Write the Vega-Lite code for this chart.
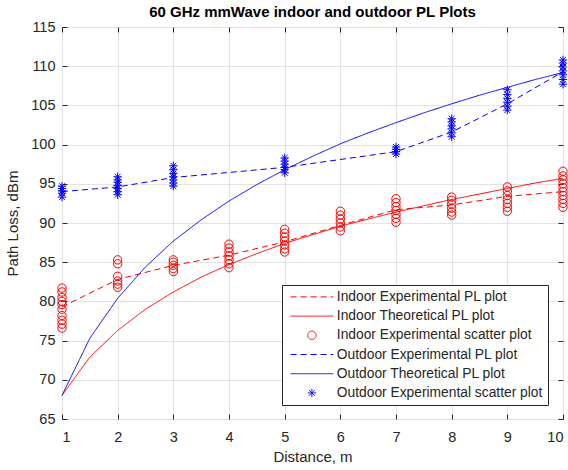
{
  "$schema": "https://vega.github.io/schema/vega-lite/v6.json",
  "width": 501,
  "height": 392,
  "autosize": {"type": "none"},
  "padding": {"left": 62, "top": 27, "right": 5, "bottom": 51},
  "background": "white",
  "title": {"text": "60 GHz mmWave indoor and outdoor PL Plots", "fontSize": 15, "fontWeight": "bold", "font": "Liberation Sans", "color": "#000000", "offset": -1, "anchor": "middle"},
  "config": {
    "view": {"stroke": "#262626", "strokeWidth": 1},
    "axis": {"labelFont": "Liberation Sans", "labelFontSize": 14.5, "labelColor": "#262626", "titleFont": "Liberation Sans", "titleFontSize": 15, "titleColor": "#262626", "titleFontWeight": "normal", "gridColor": "#e3e3e3", "gridOpacity": 1, "domain": false, "tickColor": "#262626", "tickSize": -5}
  },
  "datasets": {
    "lines": [
      {"s": "Indoor Experimental PL plot", "d": 1, "pl": 79.3},
      {"s": "Indoor Experimental PL plot", "d": 2, "pl": 82.8},
      {"s": "Indoor Experimental PL plot", "d": 3, "pl": 84.6},
      {"s": "Indoor Experimental PL plot", "d": 4, "pl": 85.9},
      {"s": "Indoor Experimental PL plot", "d": 5, "pl": 87.6},
      {"s": "Indoor Experimental PL plot", "d": 6, "pl": 89.7},
      {"s": "Indoor Experimental PL plot", "d": 7, "pl": 91.7},
      {"s": "Indoor Experimental PL plot", "d": 8, "pl": 92.3},
      {"s": "Indoor Experimental PL plot", "d": 9, "pl": 93.4},
      {"s": "Indoor Experimental PL plot", "d": 10, "pl": 94.0},
      {"s": "Indoor Theoretical PL plot", "d": 1, "pl": 68.0},
      {"s": "Indoor Theoretical PL plot", "d": 1.5, "pl": 72.9},
      {"s": "Indoor Theoretical PL plot", "d": 2, "pl": 76.3},
      {"s": "Indoor Theoretical PL plot", "d": 2.5, "pl": 79.0},
      {"s": "Indoor Theoretical PL plot", "d": 3, "pl": 81.2},
      {"s": "Indoor Theoretical PL plot", "d": 3.5, "pl": 83.1},
      {"s": "Indoor Theoretical PL plot", "d": 4, "pl": 84.7},
      {"s": "Indoor Theoretical PL plot", "d": 4.5, "pl": 86.1},
      {"s": "Indoor Theoretical PL plot", "d": 5, "pl": 87.4},
      {"s": "Indoor Theoretical PL plot", "d": 5.5, "pl": 88.5},
      {"s": "Indoor Theoretical PL plot", "d": 6, "pl": 89.6},
      {"s": "Indoor Theoretical PL plot", "d": 6.5, "pl": 90.5},
      {"s": "Indoor Theoretical PL plot", "d": 7, "pl": 91.4},
      {"s": "Indoor Theoretical PL plot", "d": 7.5, "pl": 92.2},
      {"s": "Indoor Theoretical PL plot", "d": 8, "pl": 93.0},
      {"s": "Indoor Theoretical PL plot", "d": 8.5, "pl": 93.7},
      {"s": "Indoor Theoretical PL plot", "d": 9, "pl": 94.4},
      {"s": "Indoor Theoretical PL plot", "d": 9.5, "pl": 95.1},
      {"s": "Indoor Theoretical PL plot", "d": 10, "pl": 95.7},
      {"s": "Outdoor Experimental PL plot", "d": 1, "pl": 94.0},
      {"s": "Outdoor Experimental PL plot", "d": 2, "pl": 94.6},
      {"s": "Outdoor Experimental PL plot", "d": 3, "pl": 95.8},
      {"s": "Outdoor Experimental PL plot", "d": 5, "pl": 97.1},
      {"s": "Outdoor Experimental PL plot", "d": 7, "pl": 99.1},
      {"s": "Outdoor Experimental PL plot", "d": 8, "pl": 101.6},
      {"s": "Outdoor Experimental PL plot", "d": 9, "pl": 105.2},
      {"s": "Outdoor Experimental PL plot", "d": 10, "pl": 109.3},
      {"s": "Outdoor Theoretical PL plot", "d": 1, "pl": 68.0},
      {"s": "Outdoor Theoretical PL plot", "d": 1.5, "pl": 75.3},
      {"s": "Outdoor Theoretical PL plot", "d": 2, "pl": 80.4},
      {"s": "Outdoor Theoretical PL plot", "d": 2.5, "pl": 84.4},
      {"s": "Outdoor Theoretical PL plot", "d": 3, "pl": 87.7},
      {"s": "Outdoor Theoretical PL plot", "d": 3.5, "pl": 90.4},
      {"s": "Outdoor Theoretical PL plot", "d": 4, "pl": 92.8},
      {"s": "Outdoor Theoretical PL plot", "d": 4.5, "pl": 94.9},
      {"s": "Outdoor Theoretical PL plot", "d": 5, "pl": 96.8},
      {"s": "Outdoor Theoretical PL plot", "d": 5.5, "pl": 98.5},
      {"s": "Outdoor Theoretical PL plot", "d": 6, "pl": 100.1},
      {"s": "Outdoor Theoretical PL plot", "d": 6.5, "pl": 101.5},
      {"s": "Outdoor Theoretical PL plot", "d": 7, "pl": 102.8},
      {"s": "Outdoor Theoretical PL plot", "d": 7.5, "pl": 104.05},
      {"s": "Outdoor Theoretical PL plot", "d": 8, "pl": 105.2},
      {"s": "Outdoor Theoretical PL plot", "d": 8.5, "pl": 106.3},
      {"s": "Outdoor Theoretical PL plot", "d": 9, "pl": 107.3},
      {"s": "Outdoor Theoretical PL plot", "d": 9.5, "pl": 108.3},
      {"s": "Outdoor Theoretical PL plot", "d": 10, "pl": 109.2}
    ],
    "points": [
      {"s": "Indoor Experimental scatter plot", "d": 1, "pl": 76.6},
      {"s": "Indoor Experimental scatter plot", "d": 1, "pl": 77.1},
      {"s": "Indoor Experimental scatter plot", "d": 1, "pl": 77.6},
      {"s": "Indoor Experimental scatter plot", "d": 1, "pl": 78.2},
      {"s": "Indoor Experimental scatter plot", "d": 1, "pl": 79.0},
      {"s": "Indoor Experimental scatter plot", "d": 1, "pl": 79.6},
      {"s": "Indoor Experimental scatter plot", "d": 1, "pl": 80.0},
      {"s": "Indoor Experimental scatter plot", "d": 1, "pl": 80.5},
      {"s": "Indoor Experimental scatter plot", "d": 1, "pl": 81.2},
      {"s": "Indoor Experimental scatter plot", "d": 1, "pl": 81.7},
      {"s": "Indoor Experimental scatter plot", "d": 2, "pl": 81.8},
      {"s": "Indoor Experimental scatter plot", "d": 2, "pl": 82.2},
      {"s": "Indoor Experimental scatter plot", "d": 2, "pl": 82.6},
      {"s": "Indoor Experimental scatter plot", "d": 2, "pl": 83.2},
      {"s": "Indoor Experimental scatter plot", "d": 2, "pl": 84.8},
      {"s": "Indoor Experimental scatter plot", "d": 2, "pl": 85.3},
      {"s": "Indoor Experimental scatter plot", "d": 3, "pl": 83.8},
      {"s": "Indoor Experimental scatter plot", "d": 3, "pl": 84.2},
      {"s": "Indoor Experimental scatter plot", "d": 3, "pl": 84.6},
      {"s": "Indoor Experimental scatter plot", "d": 3, "pl": 85.0},
      {"s": "Indoor Experimental scatter plot", "d": 3, "pl": 85.3},
      {"s": "Indoor Experimental scatter plot", "d": 4, "pl": 84.3},
      {"s": "Indoor Experimental scatter plot", "d": 4, "pl": 84.8},
      {"s": "Indoor Experimental scatter plot", "d": 4, "pl": 85.3},
      {"s": "Indoor Experimental scatter plot", "d": 4, "pl": 85.8},
      {"s": "Indoor Experimental scatter plot", "d": 4, "pl": 86.3},
      {"s": "Indoor Experimental scatter plot", "d": 4, "pl": 86.8},
      {"s": "Indoor Experimental scatter plot", "d": 4, "pl": 87.3},
      {"s": "Indoor Experimental scatter plot", "d": 5, "pl": 86.3},
      {"s": "Indoor Experimental scatter plot", "d": 5, "pl": 86.7},
      {"s": "Indoor Experimental scatter plot", "d": 5, "pl": 87.2},
      {"s": "Indoor Experimental scatter plot", "d": 5, "pl": 87.7},
      {"s": "Indoor Experimental scatter plot", "d": 5, "pl": 88.2},
      {"s": "Indoor Experimental scatter plot", "d": 5, "pl": 88.7},
      {"s": "Indoor Experimental scatter plot", "d": 5, "pl": 89.2},
      {"s": "Indoor Experimental scatter plot", "d": 6, "pl": 89.0},
      {"s": "Indoor Experimental scatter plot", "d": 6, "pl": 89.5},
      {"s": "Indoor Experimental scatter plot", "d": 6, "pl": 90.0},
      {"s": "Indoor Experimental scatter plot", "d": 6, "pl": 90.5},
      {"s": "Indoor Experimental scatter plot", "d": 6, "pl": 91.0},
      {"s": "Indoor Experimental scatter plot", "d": 6, "pl": 91.5},
      {"s": "Indoor Experimental scatter plot", "d": 7, "pl": 90.1},
      {"s": "Indoor Experimental scatter plot", "d": 7, "pl": 90.6},
      {"s": "Indoor Experimental scatter plot", "d": 7, "pl": 91.1},
      {"s": "Indoor Experimental scatter plot", "d": 7, "pl": 91.6},
      {"s": "Indoor Experimental scatter plot", "d": 7, "pl": 92.1},
      {"s": "Indoor Experimental scatter plot", "d": 7, "pl": 92.6},
      {"s": "Indoor Experimental scatter plot", "d": 7, "pl": 93.1},
      {"s": "Indoor Experimental scatter plot", "d": 8, "pl": 91.0},
      {"s": "Indoor Experimental scatter plot", "d": 8, "pl": 91.4},
      {"s": "Indoor Experimental scatter plot", "d": 8, "pl": 91.9},
      {"s": "Indoor Experimental scatter plot", "d": 8, "pl": 92.4},
      {"s": "Indoor Experimental scatter plot", "d": 8, "pl": 92.9},
      {"s": "Indoor Experimental scatter plot", "d": 8, "pl": 93.3},
      {"s": "Indoor Experimental scatter plot", "d": 9, "pl": 91.5},
      {"s": "Indoor Experimental scatter plot", "d": 9, "pl": 92.0},
      {"s": "Indoor Experimental scatter plot", "d": 9, "pl": 92.5},
      {"s": "Indoor Experimental scatter plot", "d": 9, "pl": 93.0},
      {"s": "Indoor Experimental scatter plot", "d": 9, "pl": 93.5},
      {"s": "Indoor Experimental scatter plot", "d": 9, "pl": 94.1},
      {"s": "Indoor Experimental scatter plot", "d": 9, "pl": 94.6},
      {"s": "Indoor Experimental scatter plot", "d": 10, "pl": 92.0},
      {"s": "Indoor Experimental scatter plot", "d": 10, "pl": 92.5},
      {"s": "Indoor Experimental scatter plot", "d": 10, "pl": 93.0},
      {"s": "Indoor Experimental scatter plot", "d": 10, "pl": 93.5},
      {"s": "Indoor Experimental scatter plot", "d": 10, "pl": 94.0},
      {"s": "Indoor Experimental scatter plot", "d": 10, "pl": 94.5},
      {"s": "Indoor Experimental scatter plot", "d": 10, "pl": 95.0},
      {"s": "Indoor Experimental scatter plot", "d": 10, "pl": 95.5},
      {"s": "Indoor Experimental scatter plot", "d": 10, "pl": 96.0},
      {"s": "Indoor Experimental scatter plot", "d": 10, "pl": 96.6},
      {"s": "Outdoor Experimental scatter plot", "d": 1, "pl": 93.3},
      {"s": "Outdoor Experimental scatter plot", "d": 1, "pl": 93.8},
      {"s": "Outdoor Experimental scatter plot", "d": 1, "pl": 94.1},
      {"s": "Outdoor Experimental scatter plot", "d": 1, "pl": 94.4},
      {"s": "Outdoor Experimental scatter plot", "d": 1, "pl": 94.7},
      {"s": "Outdoor Experimental scatter plot", "d": 2, "pl": 93.6},
      {"s": "Outdoor Experimental scatter plot", "d": 2, "pl": 94.0},
      {"s": "Outdoor Experimental scatter plot", "d": 2, "pl": 94.4},
      {"s": "Outdoor Experimental scatter plot", "d": 2, "pl": 94.8},
      {"s": "Outdoor Experimental scatter plot", "d": 2, "pl": 95.2},
      {"s": "Outdoor Experimental scatter plot", "d": 2, "pl": 95.5},
      {"s": "Outdoor Experimental scatter plot", "d": 2, "pl": 95.9},
      {"s": "Outdoor Experimental scatter plot", "d": 3, "pl": 94.7},
      {"s": "Outdoor Experimental scatter plot", "d": 3, "pl": 95.1},
      {"s": "Outdoor Experimental scatter plot", "d": 3, "pl": 95.5},
      {"s": "Outdoor Experimental scatter plot", "d": 3, "pl": 95.9},
      {"s": "Outdoor Experimental scatter plot", "d": 3, "pl": 96.3},
      {"s": "Outdoor Experimental scatter plot", "d": 3, "pl": 96.8},
      {"s": "Outdoor Experimental scatter plot", "d": 3, "pl": 97.3},
      {"s": "Outdoor Experimental scatter plot", "d": 5, "pl": 96.4},
      {"s": "Outdoor Experimental scatter plot", "d": 5, "pl": 96.8},
      {"s": "Outdoor Experimental scatter plot", "d": 5, "pl": 97.1},
      {"s": "Outdoor Experimental scatter plot", "d": 5, "pl": 97.5},
      {"s": "Outdoor Experimental scatter plot", "d": 5, "pl": 97.9},
      {"s": "Outdoor Experimental scatter plot", "d": 5, "pl": 98.3},
      {"s": "Outdoor Experimental scatter plot", "d": 7, "pl": 98.8},
      {"s": "Outdoor Experimental scatter plot", "d": 7, "pl": 99.1},
      {"s": "Outdoor Experimental scatter plot", "d": 7, "pl": 99.4},
      {"s": "Outdoor Experimental scatter plot", "d": 7, "pl": 99.7},
      {"s": "Outdoor Experimental scatter plot", "d": 8, "pl": 101.0},
      {"s": "Outdoor Experimental scatter plot", "d": 8, "pl": 101.5},
      {"s": "Outdoor Experimental scatter plot", "d": 8, "pl": 102.0},
      {"s": "Outdoor Experimental scatter plot", "d": 8, "pl": 102.4},
      {"s": "Outdoor Experimental scatter plot", "d": 8, "pl": 102.9},
      {"s": "Outdoor Experimental scatter plot", "d": 8, "pl": 103.3},
      {"s": "Outdoor Experimental scatter plot", "d": 9, "pl": 104.4},
      {"s": "Outdoor Experimental scatter plot", "d": 9, "pl": 104.9},
      {"s": "Outdoor Experimental scatter plot", "d": 9, "pl": 105.4},
      {"s": "Outdoor Experimental scatter plot", "d": 9, "pl": 105.9},
      {"s": "Outdoor Experimental scatter plot", "d": 9, "pl": 106.4},
      {"s": "Outdoor Experimental scatter plot", "d": 9, "pl": 107.0},
      {"s": "Outdoor Experimental scatter plot", "d": 10, "pl": 107.7},
      {"s": "Outdoor Experimental scatter plot", "d": 10, "pl": 108.3},
      {"s": "Outdoor Experimental scatter plot", "d": 10, "pl": 108.9},
      {"s": "Outdoor Experimental scatter plot", "d": 10, "pl": 109.4},
      {"s": "Outdoor Experimental scatter plot", "d": 10, "pl": 109.9},
      {"s": "Outdoor Experimental scatter plot", "d": 10, "pl": 110.4},
      {"s": "Outdoor Experimental scatter plot", "d": 10, "pl": 110.8}
    ]
  },
  "layer": [
    {
      "data": {"name": "lines"},
      "mark": {"type": "line", "strokeWidth": 1, "clip": false},
      "encoding": {
        "x": {"field": "d", "type": "quantitative", "scale": {"domain": [1, 10], "nice": false, "zero": false},
              "axis": {"title": "Distance, m", "values": [1,2,3,4,5,6,7,8,9,10], "format": "d", "labelPadding": 16, "titlePadding": 6}},
        "y": {"field": "pl", "type": "quantitative", "scale": {"domain": [65, 115], "nice": false, "zero": false},
              "axis": {"title": "Path Loss, dBm", "values": [65,70,75,80,85,90,95,100,105,110,115], "labelPadding": 12, "titlePadding": 10}},
        "color": {"field": "s", "type": "nominal",
          "scale": {"domain": ["Indoor Experimental PL plot", "Indoor Theoretical PL plot", "Indoor Experimental scatter plot", "Outdoor Experimental PL plot", "Outdoor Theoretical PL plot", "Outdoor Experimental scatter plot"],
                    "range": ["#ff0000", "#ff0000", "#ff0000", "#0000ff", "#0000ff", "#0000ff"]},
          "legend": {"title": null, "orient": "none", "legendX": 220, "legendY": 258, "strokeColor": "#262626", "fillColor": "white", "padding": 5, "labelFont": "Liberation Sans", "labelFontSize": 13.8, "labelColor": "#262626", "labelLimit": 0, "symbolSize": 70, "symbolStrokeWidth": 1, "symbolOffset": 18, "labelOffset": 18, "rowPadding": 4.2}},
        "strokeDash": {"field": "s", "type": "nominal",
          "scale": {"domain": ["Indoor Experimental PL plot", "Indoor Theoretical PL plot", "Indoor Experimental scatter plot", "Outdoor Experimental PL plot", "Outdoor Theoretical PL plot", "Outdoor Experimental scatter plot"],
                    "range": [[6,4], [1,0], [1,0], [6,4], [1,0], [1,0]]},
          "legend": {"title": null, "orient": "none", "legendX": 220, "legendY": 258, "strokeColor": "#262626", "fillColor": "white", "padding": 5, "labelFont": "Liberation Sans", "labelFontSize": 13.8, "labelColor": "#262626", "labelLimit": 0, "symbolSize": 70, "symbolStrokeWidth": 1, "symbolOffset": 18, "labelOffset": 18, "rowPadding": 4.2}}
      }
    },
    {
      "data": {"name": "points"},
      "mark": {"type": "point", "filled": false, "size": 70, "strokeWidth": 1, "opacity": 1},
      "encoding": {
        "x": {"field": "d", "type": "quantitative", "axis": null},
        "y": {"field": "pl", "type": "quantitative", "axis": null},
        "color": {"field": "s", "type": "nominal"},
        "shape": {"field": "s", "type": "nominal",
          "scale": {"domain": ["Indoor Experimental PL plot", "Indoor Theoretical PL plot", "Indoor Experimental scatter plot", "Outdoor Experimental PL plot", "Outdoor Theoretical PL plot", "Outdoor Experimental scatter plot"],
                    "range": ["M-5.1,0L5.1,0", "M-5.1,0L5.1,0", "circle", "M-5.1,0L5.1,0", "M-5.1,0L5.1,0", "M-1,0L1,0M0,-1L0,1M-0.7,-0.7L0.7,0.7M-0.7,0.7L0.7,-0.7"]},
          "legend": {"title": null, "orient": "none", "legendX": 220, "legendY": 258, "strokeColor": "#262626", "fillColor": "white", "padding": 5, "labelFont": "Liberation Sans", "labelFontSize": 13.8, "labelColor": "#262626", "labelLimit": 0, "symbolSize": 70, "symbolStrokeWidth": 1, "symbolOffset": 18, "labelOffset": 18, "rowPadding": 4.2}}
      }
    },
    {
      "data": {"name": "points"},
      "mark": {"type": "point", "opacity": 0},
      "encoding": {
        "x": {"field": "d", "type": "quantitative", "axis": {"orient": "top", "values": [1,2,3,4,5,6,7,8,9,10], "labels": false, "grid": false, "title": null}},
        "y": {"field": "pl", "type": "quantitative", "axis": {"orient": "right", "values": [65,70,75,80,85,90,95,100,105,110,115], "labels": false, "grid": false, "title": null}}
      }
    }
  ],
  "resolve": {"axis": {"x": "independent", "y": "independent"}}
}
